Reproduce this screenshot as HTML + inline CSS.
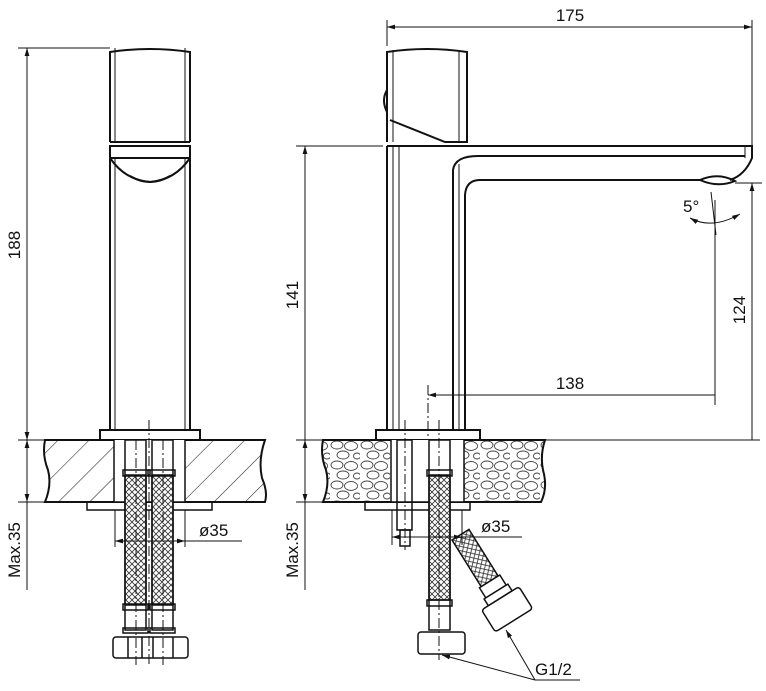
<!DOCTYPE html>
<html><head><meta charset="utf-8"><style>
html,body{margin:0;padding:0;background:#fff;}
svg{display:block;}
text{font-family:"Liberation Sans",sans-serif;font-size:17px;fill:#111;}
</style></head><body>
<svg width="766" height="691" viewBox="0 0 766 691" xmlns="http://www.w3.org/2000/svg">
<defs>
<pattern id="hatch" width="22" height="22" patternUnits="userSpaceOnUse" patternTransform="rotate(45)">
<line x1="0" y1="0" x2="0" y2="22" stroke="#222" stroke-width="1.1"/>
</pattern>
<pattern id="peb" width="30" height="20" patternUnits="userSpaceOnUse">
<ellipse cx="7" cy="5" rx="6" ry="4" fill="none" stroke="#444" stroke-width="0.9"/>
<ellipse cx="21" cy="6" rx="6.5" ry="4.5" fill="none" stroke="#444" stroke-width="0.9"/>
<ellipse cx="13" cy="15" rx="6" ry="4" fill="none" stroke="#444" stroke-width="0.9"/>
<ellipse cx="27" cy="16" rx="3.5" ry="3" fill="none" stroke="#444" stroke-width="0.9"/>
</pattern>
<pattern id="braid" width="6" height="6" patternUnits="userSpaceOnUse">
<path d="M0 0L6 6M6 0L0 6" stroke="#333" stroke-width="0.8"/>
</pattern>
<marker id="ar" viewBox="0 0 10 10" refX="10" refY="5" markerWidth="8" markerHeight="8" orient="auto-start-reverse">
<path d="M0 2L10 5L0 8z" fill="#111"/>
</marker>
</defs>
<g fill="none" stroke="#111" stroke-width="1">

<!-- ===== LEFT VIEW ===== -->
<line x1="18" y1="48" x2="110" y2="48"/>
<line x1="27" y1="48" x2="27" y2="440" marker-start="url(#ar)" marker-end="url(#ar)"/>
<line x1="18" y1="440" x2="45" y2="440"/>
<line x1="18" y1="502" x2="45" y2="502"/>
<line x1="27" y1="440" x2="27" y2="502" marker-start="url(#ar)" marker-end="url(#ar)"/>
<line x1="27" y1="502" x2="27" y2="590"/>
<g stroke-width="2">
<path d="M110 142V52Q150 46 190 52V142"/>
<line x1="110" y1="142" x2="190" y2="142"/>
<path d="M110 146H190V158H110Z"/>
<path d="M110 158Q125 180 150 182Q175 180 190 158"/>
<path d="M130 176Q150 188 170 176"/>
<line x1="110" y1="146" x2="110" y2="430"/>
<line x1="190" y1="146" x2="190" y2="430"/>
<rect x="100" y="430" width="100" height="10"/>
</g>
<line x1="115" y1="48" x2="115" y2="142"/><line x1="185" y1="48" x2="185" y2="142"/>
<line x1="115" y1="158" x2="115" y2="430"/><line x1="185" y1="158" x2="185" y2="430"/>
<path d="M45 440H265Q258 460 262 478Q268 492 265 502H45Q52 485 48 470Q42 455 45 440Z" fill="url(#hatch)" stroke-width="2"/>
<rect x="114" y="440" width="71" height="62" fill="#fff" stroke="none"/>
<line x1="114" y1="440" x2="114" y2="502" stroke-width="1.5"/>
<line x1="185" y1="440" x2="185" y2="502" stroke-width="1.5"/>
<rect x="87" y="502" width="125" height="8" stroke-width="1.5"/>
<g stroke-width="1.5">
<rect x="125" y="440" width="21" height="190" fill="#fff"/>
<rect x="152" y="440" width="21" height="190" fill="#fff"/>
<rect x="125" y="475" width="21" height="130" fill="url(#braid)"/>
<rect x="152" y="475" width="21" height="130" fill="url(#braid)"/>
<rect x="123" y="470" width="25" height="6"/><rect x="150" y="470" width="25" height="6"/>
<rect x="123" y="604" width="25" height="6"/><rect x="150" y="604" width="25" height="6"/>
<rect x="123" y="628" width="25" height="5"/><rect x="150" y="628" width="25" height="5"/>
<rect x="113" y="637" width="75" height="21" rx="3"/>
<line x1="128" y1="637" x2="128" y2="658"/><line x1="142" y1="637" x2="142" y2="658"/>
<line x1="153" y1="637" x2="153" y2="658"/><line x1="173" y1="637" x2="173" y2="658"/>
</g>
<line x1="149" y1="420" x2="149" y2="665" stroke-dasharray="10 3 2 3"/>
<line x1="136" y1="440" x2="136" y2="665" stroke-dasharray="10 3 2 3"/>
<line x1="163" y1="440" x2="163" y2="665" stroke-dasharray="10 3 2 3"/>
<line x1="115" y1="510" x2="115" y2="547"/><line x1="185" y1="510" x2="185" y2="547"/>
<line x1="115" y1="541" x2="185" y2="541" marker-start="url(#ar)" marker-end="url(#ar)"/>
<line x1="185" y1="541" x2="242" y2="541"/>

<!-- ===== RIGHT VIEW ===== -->
<line x1="387" y1="20" x2="387" y2="46"/>
<line x1="752" y1="20" x2="752" y2="146"/>
<line x1="387" y1="27" x2="752" y2="27" marker-start="url(#ar)" marker-end="url(#ar)"/>
<line x1="296" y1="146" x2="383" y2="146"/>
<line x1="305" y1="146" x2="305" y2="440" marker-start="url(#ar)"/>
<line x1="296" y1="440" x2="323" y2="440"/>
<line x1="296" y1="502" x2="323" y2="502"/>
<line x1="305" y1="440" x2="305" y2="502" marker-start="url(#ar)" marker-end="url(#ar)"/>
<line x1="305" y1="502" x2="305" y2="590"/>
<line x1="480" y1="440" x2="760" y2="440"/>
<line x1="735" y1="183" x2="762" y2="183"/>
<line x1="752" y1="183" x2="752" y2="440" marker-start="url(#ar)"/>
<line x1="715" y1="200" x2="715" y2="405"/>
<line x1="428" y1="385" x2="428" y2="440" stroke-dasharray="10 3 2 3"/>
<line x1="428" y1="395" x2="715" y2="395" marker-start="url(#ar)"/>
<line x1="711" y1="192" x2="716" y2="235"/>
<path d="M690 218Q712 230 740 214" marker-start="url(#ar)" marker-end="url(#ar)"/>
<g stroke-width="2">
<path d="M387 142V52Q427 46 467 52V142H445L390 120"/>
<path d="M387 90Q381 100 387 112"/>
<path d="M387 146H752V158Q745 175 730 180"/>
<path d="M387 146V430"/>
<path d="M453 430V170Q455 156 478 156H745"/>
<path d="M465 430V195Q466 180 480 180H700"/>
<path d="M700 180Q718 172 735 181Q718 188 700 180Z"/>
<rect x="376" y="430" width="104" height="10"/>
</g>
<line x1="393" y1="146" x2="393" y2="430"/><line x1="399" y1="146" x2="399" y2="430"/>
<line x1="393" y1="50" x2="393" y2="142"/><line x1="459" y1="50" x2="459" y2="142"/>
<line x1="459" y1="164" x2="459" y2="430"/>
<line x1="745" y1="146" x2="745" y2="158"/>
<path d="M323 440H545Q540 455 543 470Q548 488 541 502H323Q330 485 326 470Q320 455 323 440Z" fill="url(#peb)" stroke-width="2"/>
<rect x="391" y="440" width="73" height="62" fill="#fff" stroke="none"/>
<line x1="391" y1="440" x2="391" y2="502" stroke-width="1.5"/>
<line x1="464" y1="440" x2="464" y2="502" stroke-width="1.5"/>
<rect x="365" y="502" width="105" height="8" stroke-width="1.5"/>
<g stroke-width="1.5">
<rect x="397" y="440" width="15" height="90"/>
<rect x="400" y="530" width="10" height="16"/>
<rect x="429" y="440" width="21" height="190" fill="#fff"/>
<rect x="429" y="475" width="21" height="125" fill="url(#braid)"/>
<rect x="427" y="470" width="25" height="6"/><rect x="427" y="600" width="25" height="6"/>
<rect x="418" y="632" width="47" height="22" rx="3"/>
<g transform="translate(452,540) rotate(-32)">
<rect x="0" y="0" width="20" height="55" fill="url(#braid)"/>
<rect x="-2" y="55" width="24" height="12" fill="#fff"/>
<rect x="-4" y="67" width="28" height="8" fill="#fff"/>
<rect x="-12" y="75" width="44" height="26" rx="3" fill="#fff"/>
</g>
</g>
<line x1="405" y1="420" x2="405" y2="550" stroke-dasharray="10 3 2 3"/>
<line x1="439" y1="420" x2="439" y2="660" stroke-dasharray="10 3 2 3"/>
<line x1="392" y1="510" x2="392" y2="545"/><line x1="462" y1="510" x2="462" y2="545"/>
<line x1="392" y1="537" x2="462" y2="537" marker-start="url(#ar)" marker-end="url(#ar)"/>
<line x1="462" y1="537" x2="522" y2="537"/>
<line x1="535" y1="680" x2="580" y2="680"/>
<line x1="535" y1="680" x2="442" y2="655" marker-end="url(#ar)"/>
<line x1="535" y1="680" x2="506" y2="630" marker-end="url(#ar)"/>
</g>

<text x="20" y="245" text-anchor="middle" transform="rotate(-90 20 245)">188</text>
<text x="20" y="550" text-anchor="middle" transform="rotate(-90 20 550)">Max.35</text>
<text x="199" y="536">ø35</text>
<text x="570" y="21" text-anchor="middle">175</text>
<text x="298" y="295" text-anchor="middle" transform="rotate(-90 298 295)">141</text>
<text x="298" y="550" text-anchor="middle" transform="rotate(-90 298 550)">Max.35</text>
<text x="745" y="310" text-anchor="middle" transform="rotate(-90 745 310)">124</text>
<text x="570" y="389" text-anchor="middle">138</text>
<text x="683" y="212">5°</text>
<text x="481" y="532">ø35</text>
<text x="535" y="675">G1/2</text>
</svg>
</body></html>
